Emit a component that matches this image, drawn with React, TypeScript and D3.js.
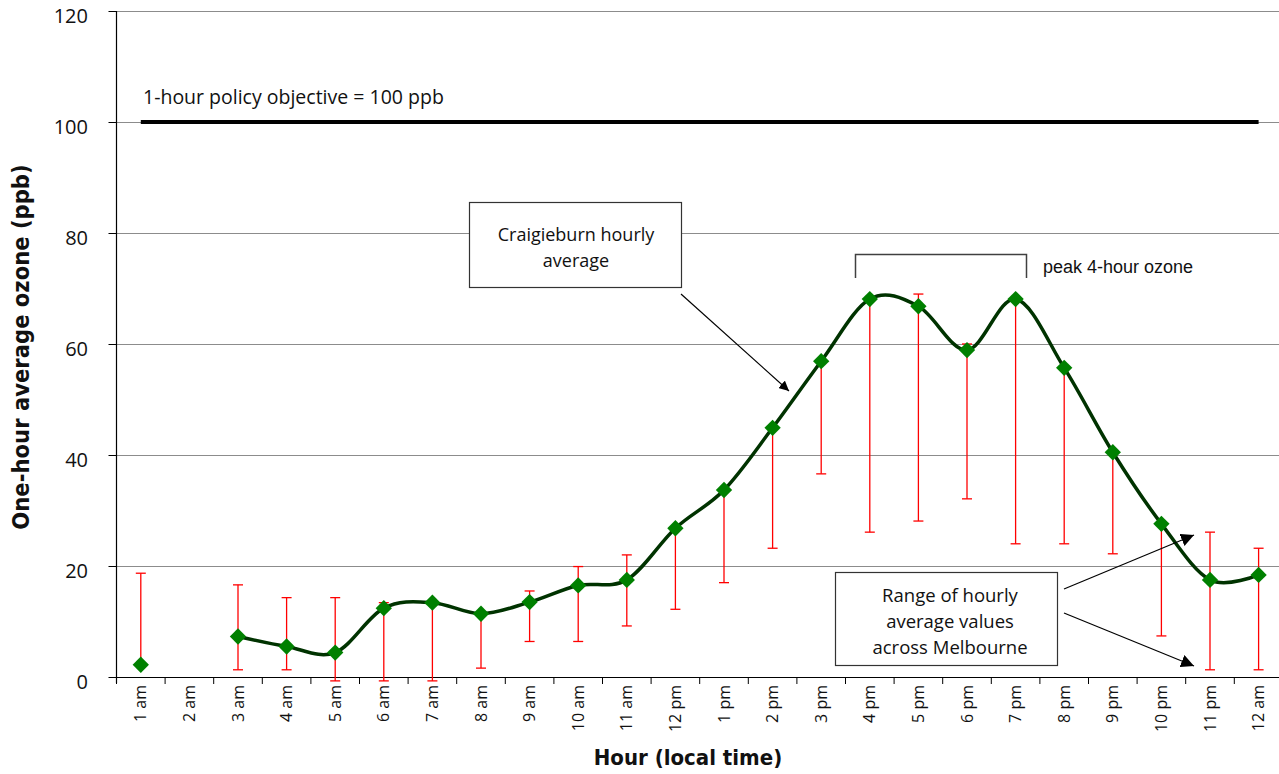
import React from "react";
import * as d3 from "d3";

const hours = ["1 am","2 am","3 am","4 am","5 am","6 am","7 am","8 am","9 am","10 am","11 am","12 pm","1 pm","2 pm","3 pm","4 pm","5 pm","6 pm","7 pm","8 pm","9 pm","10 pm","11 pm","12 am"];
const craigieburn: (number | null)[] = [2.2, null, 7.3, 5.5, 4.4, 12.4, 13.4, 11.4, 13.5, 16.5, 17.5, 26.8, 33.7, 44.9, 56.9, 68.1, 66.8, 58.9, 68.1, 55.7, 40.5, 27.6, 17.5, 18.4];
const rangeLow: (number | null)[] = [2.2, null, 1.3, 1.3, -0.7, -0.7, -0.7, 1.6, 6.4, 6.4, 9.2, 12.2, 17.0, 23.2, 36.6, 26.1, 28.1, 32.1, 24.0, 24.0, 22.2, 7.4, 1.3, 1.3];
const rangeHigh: (number | null)[] = [18.7, null, 16.6, 14.3, 14.3, 13.4, 13.4, 11.4, 15.5, 19.9, 22.0, 26.8, 33.7, 44.9, 56.9, 68.1, 69.0, 60.0, 68.1, 55.7, 40.5, 27.6, 26.1, 23.2];
const yTicks = [0, 20, 40, 60, 80, 100, 120];
const gridValues = [20, 40, 60, 80, 100, 120];
const policyValue = 100;

const W = 1279, H = 774;
const left = 116.5, bottom = 677, top = 11;
const band = 48.6;

export default function App() {
  const x = d3.scaleBand<string>().domain(hours).range([left, left + band * hours.length]).padding(0);
  const y = d3.scaleLinear().domain([0, 120]).range([bottom, top]);
  const cx = (h: string) => (x(h) as number) + x.bandwidth() / 2;

  const pts = hours.map((h, i) => ({ h, v: craigieburn[i], i }));
  const line = d3.line<{ h: string; v: number | null; i: number }>()
    .defined((d) => d.v !== null && d.i >= 2)
    .x((d) => cx(d.h))
    .y((d) => y(d.v as number))
    .curve(d3.curveCardinal.tension(0));

  const diamond = d3.symbol().type(d3.symbolDiamond2).size(170)();

  const font = "'Open Sans', Lato, sans-serif";
  const boldFont = "'DejaVu Sans Condensed', 'DejaVu Sans', sans-serif";

  return (
    <svg width={W} height={H} style={{ position: "absolute", left: 0, top: 0, background: "#fff" }}>
      <defs>
        <marker id="arr" viewBox="0 0 10 10" refX="10" refY="5" markerWidth="10" markerHeight="10" markerUnits="userSpaceOnUse" orient="auto">
          <path d="M0,0 L10,5 L0,10 z" fill="#000" />
        </marker>
        <marker id="arr2" viewBox="0 0 10 10" refX="10" refY="5" markerWidth="13" markerHeight="13" markerUnits="userSpaceOnUse" orient="auto">
          <path d="M0,0 L10,5 L0,10 z" fill="#000" />
        </marker>
      </defs>
      {/* gridlines */}
      {gridValues.map((v) => (
        <line key={v} x1={left} x2={W} y1={Math.round(y(v)) + 0.5} y2={Math.round(y(v)) + 0.5} stroke="#8c8c8c" strokeWidth={1} />
      ))}
      {/* y axis */}
      <line x1={left} x2={left} y1={top} y2={bottom + 6} stroke="#000" strokeWidth={1.2} />
      {yTicks.map((v) => (
        <g key={v}>
          <line x1={left - 8} x2={left} y1={Math.round(y(v)) + 0.5} y2={Math.round(y(v)) + 0.5} stroke="#000" strokeWidth={1} />
          <text x={88} y={y(v) + 12} textAnchor="end" fontFamily={font} fontSize={20} fill="#111">{v}</text>
        </g>
      ))}
      {/* x axis */}
      <line x1={left} x2={W} y1={bottom + 0.5} y2={bottom + 0.5} stroke="#000" strokeWidth={1.2} />
      {hours.map((h) => (
        <line key={"t" + h} x1={x(h) as number} x2={x(h) as number} y1={bottom} y2={bottom + 7} stroke="#000" strokeWidth={1} />
      ))}
      {hours.map((h) => (
        <text key={"l" + h} transform={`translate(${cx(h) + 5.5},${685}) rotate(-90)`} textAnchor="end" fontFamily={font} fontSize={16} fill="#111">{h}</text>
      ))}
      {/* policy line */}
      <line x1={cx(hours[0])} x2={cx(hours[hours.length - 1])} y1={y(policyValue)} y2={y(policyValue)} stroke="#000" strokeWidth={4} />
      <text x={143} y={104} fontFamily={font} fontSize={19.5} fill="#111">1-hour policy objective = 100 ppb</text>
      {/* error bars */}
      {hours.map((h, i) => {
        const lo = rangeLow[i], hi = rangeHigh[i];
        if (lo === null || hi === null) return null;
        const c = cx(h);
        return (
          <g key={"e" + h} stroke="#ff0000" strokeWidth={1.3}>
            <line x1={c} x2={c} y1={y(lo)} y2={y(hi)} />
            <line x1={c - 5} x2={c + 5} y1={y(hi)} y2={y(hi)} />
            <line x1={c - 5} x2={c + 5} y1={y(lo)} y2={y(lo)} />
          </g>
        );
      })}
      {/* smoothed line */}
      <path d={line(pts) || ""} fill="none" stroke="#003300" strokeWidth={3.5} />
      {pts.filter((d) => d.v !== null).map((d) => (
        <path key={"m" + d.h} d={diamond || ""} transform={`translate(${cx(d.h)},${y(d.v as number)})`} fill="#008000" />
      ))}
      {/* peak bracket */}
      <path d="M855.5,278 L855.5,254.5 L1026.5,254.5 L1026.5,278" fill="none" stroke="#404040" strokeWidth={1.5} />
      <text x={1043} y={273} fontFamily="'Liberation Sans', Arial, sans-serif" fontSize={18} fill="#111">peak 4-hour ozone</text>
      {/* Craigieburn box */}
      <line x1={681} y1={294} x2={789} y2={391} stroke="#000" strokeWidth={1.2} markerEnd="url(#arr)" />
      <rect x={469.5} y={202.5} width={212} height={85} fill="#fff" stroke="#333" strokeWidth={1.2} />
      <text x={576} y={241} textAnchor="middle" fontFamily={font} fontSize={18} fill="#111">Craigieburn hourly</text>
      <text x={576} y={267} textAnchor="middle" fontFamily={font} fontSize={18} fill="#111">average</text>
      {/* Range box */}
      <rect x={835.5} y={572.5} width={222} height={93} fill="#fff" stroke="#333" strokeWidth={1.2} />
      <text x={950} y={602} textAnchor="middle" fontFamily={font} fontSize={18.5} fill="#111">Range of hourly</text>
      <text x={950} y={628} textAnchor="middle" fontFamily={font} fontSize={18.5} fill="#111">average values</text>
      <text x={950} y={654} textAnchor="middle" fontFamily={font} fontSize={18.5} fill="#111">across Melbourne</text>
      <line x1={1064} y1={589} x2={1194} y2={535} stroke="#000" strokeWidth={1.2} markerEnd="url(#arr2)" />
      <line x1={1064} y1={613} x2={1194} y2={666} stroke="#000" strokeWidth={1.2} markerEnd="url(#arr2)" />
      {/* axis titles */}
      <text x={688} y={765} textAnchor="middle" fontFamily={boldFont} fontWeight="bold" fontSize={22} fill="#111">Hour (local time)</text>
      <text transform={`translate(29,347) rotate(-90)`} textAnchor="middle" fontFamily={boldFont} fontWeight="bold" fontSize={23.5} fill="#111">One-hour average ozone (ppb)</text>
    </svg>
  );
}
